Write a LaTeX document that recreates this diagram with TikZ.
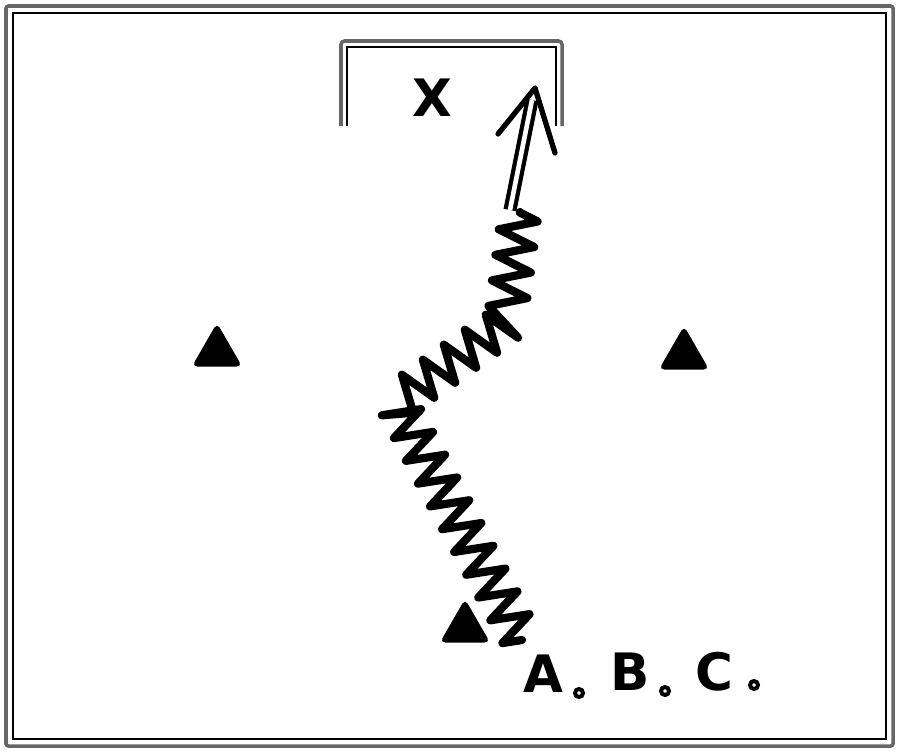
\documentclass[tikz,border=0pt]{standalone}
\usepackage{fontspec}
\setmainfont{DejaVu Sans}
\usetikzlibrary{decorations.pathmorphing,shapes.geometric}

\tikzset{
  cone/.style={regular polygon, regular polygon sides=3, fill=black, draw=black,
    line width=2pt, rounded corners=3pt, minimum size=1.6cm, inner sep=0pt},
  player/.style={font=\fontsize{44}{44}\selectfont\bfseries, inner sep=0pt},
  ball/.style={circle, draw=black, line width=3.4pt, minimum size=0.24cm, inner sep=0pt},
  edge/.style={line width=3pt, black!60},
  rim/.style={line width=0.9pt, black}
}

\begin{document}
\begin{tikzpicture}[x=0.03cm,y=-0.03cm]
\useasboundingbox (0,0) rectangle (900,752);

% field
\draw[edge,rounded corners=2pt] (6,6) rectangle (893,746);
\draw[rim] (13,13) rectangle (886,739);

% goal
\draw[edge,rounded corners=3pt] (341,126) -- (341,41) -- (562,41) -- (562,126);
\draw[rim] (347,126) -- (347,47) -- (556,47) -- (556,126);
\node[player] (x) at (432,98) {X};

% cones
\node[cone] (c1) at (217,352) {};
\node[cone] (c2) at (684,355) {};
\node[cone] (c3) at (465,628) {};

% players
\node[player] (a) at (543,674) {A};
\node[player] (b) at (630,672) {B};
\node[player] (c) at (714,672) {C};
\node[ball] (ba) at (579,693) {};
\node[ball] (bb) at (665,691) {};
\node[ball] (bc) at (754,685) {};

% dribble
\coordinate (d0) at (522,640);
\coordinate (d1) at (396,402);
\coordinate (d2) at (505,324);
\coordinate (d3) at (520,212);
\draw[line width=7pt, line join=round, line cap=round,
  decorate, decoration={zigzag, segment length=22pt, amplitude=16pt}]
  (d0) -- (d1) -- (d2) -- (d3);

% shot
\coordinate (s0) at (510,210);
\coordinate (s1) at (532,100);
\coordinate (tip) at (535,88);
\coordinate (w1) at (498,134);
\coordinate (w2) at (555,153);
\draw[line width=3.6pt, double=white, double distance=4pt] (s0) -- (s1);
\draw[line width=4.5pt, line join=round, line cap=round] (w1) -- (tip) -- (w2);
\end{tikzpicture}
\end{document}
